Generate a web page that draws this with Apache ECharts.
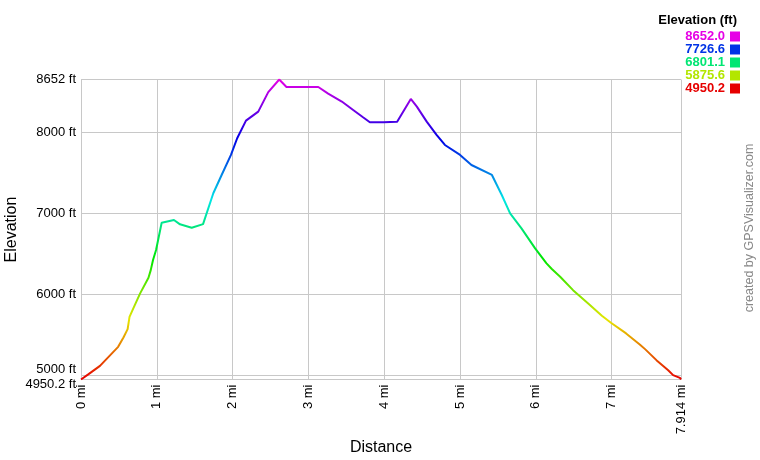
<!DOCTYPE html>
<html>
<head>
<meta charset="utf-8">
<script src="https://cdn.jsdelivr.net/npm/echarts@6/dist/echarts.min.js"></script>
<style>
  html, body { margin: 0; padding: 0; background: #fff; }
  #main { width: 760px; height: 460px; }
</style>
</head>
<body>
<div id="main"></div>
<script>
var myChart = echarts.init(document.getElementById('main'));

// distance (mi) and elevation (ft)
var distance = [0, 0.1, 0.25, 0.49, 0.56, 0.615, 0.64, 0.69, 0.78, 0.89, 0.92, 0.95, 0.99,
  1.064, 1.226, 1.306, 1.46, 1.61, 1.745, 1.855, 1.978, 2.06, 2.176, 2.338, 2.47, 2.615, 2.64,
  2.71, 3.13, 3.26, 3.44, 3.59, 3.72, 3.81, 3.99, 4.17, 4.35, 4.43, 4.56, 4.69, 4.80, 5.0,
  5.15, 5.42, 5.55, 5.66, 5.81, 5.99, 6.14, 6.21, 6.32, 6.49, 6.69, 6.87, 6.99, 7.19, 7.37,
  7.44, 7.59, 7.745, 7.81, 7.9, 7.914];
var elevation = [4950.2, 5016, 5119, 5353, 5469, 5572, 5724, 5827, 6013, 6206, 6300, 6424, 6548,
  6885, 6918, 6865, 6823, 6868, 7248, 7474, 7721, 7927, 8145, 8256, 8496, 8652, 8640,
  8560, 8560, 8478, 8380, 8276, 8186, 8124, 8124, 8132, 8412, 8317, 8132, 7968, 7844, 7721,
  7597, 7474, 7227, 7000, 6815, 6568, 6383, 6313, 6218, 6053, 5889, 5736, 5650, 5519, 5383,
  5325, 5189, 5065, 5004, 4970, 4950.2];

var xTicks = [0, 1, 2, 3, 4, 5, 6, 7, 7.914];
var yTicks = [4950.2, 5000, 6000, 7000, 8000, 8652];
var legendLabels = ['8652.0', '7726.6', '6801.1', '5875.6', '4950.2'];
var legendColors = ['#e600e6', '#0033e6', '#00e673', '#b3e600', '#e60000'];
var rampColors = ['#e60000', '#e6e600', '#00e600', '#00e6e6', '#0000e6', '#e600e6'];

var points = distance.map(function (d, i) { return [d, elevation[i]]; });

var graphics = [
  { type: 'text', right: 23, top: 14,
    style: { text: 'Elevation (ft)', font: 'bold 13px "Liberation Sans", Arial', fill: '#000' } },
  { type: 'text', x: 750, y: 228,
    rotation: Math.PI / 2,
    style: { text: 'created by GPSVisualizer.com', font: '12.5px "Liberation Sans", Arial', fill: '#888',
      align: 'center', verticalAlign: 'middle' } }
];
legendLabels.forEach(function (lab, i) {
  graphics.push({ type: 'text', x: 725, y: 36.5 + i * 13,
    style: { text: lab, font: 'bold 13px "Liberation Sans", Arial', fill: legendColors[i],
      align: 'right', verticalAlign: 'middle' } });
  graphics.push({ type: 'rect', shape: { x: 730, y: 31.5 + i * 13, width: 10, height: 10 },
    style: { fill: legendColors[i] } });
});

option = {
  animation: false,
  textStyle: { fontFamily: '"Liberation Sans", Arial' },
  grid: { left: 81, right: 79, top: 79.5, bottom: 80.5, containLabel: false, outerBoundsMode: 'none' },
  xAxis: {
    type: 'value',
    min: 0,
    max: 7.914,
    name: 'Distance',
    nameLocation: 'middle',
    nameGap: 60,
    nameMoveOverlap: false,
    nameTextStyle: { fontSize: 16, color: '#000' },
    axisLine: { show: false },
    axisTick: { show: false, customValues: xTicks },
    axisLabel: {
      customValues: xTicks,
      rotate: 90,
      fontSize: 13,
      color: '#000',
      margin: 5,
      formatter: function (v) { return v + ' mi'; }
    },
    splitLine: { show: true, lineStyle: { color: '#c8c8c8', width: 1 } }
  },
  yAxis: {
    type: 'value',
    min: 4950.2,
    max: 8652,
    name: 'Elevation',
    nameLocation: 'middle',
    nameGap: 61,
    nameMoveOverlap: false,
    nameRotate: 90,
    nameTextStyle: { fontSize: 16, color: '#000' },
    axisLine: { show: false },
    axisTick: { show: false, customValues: yTicks },
    axisLabel: {
      customValues: yTicks,
      fontSize: 13,
      color: '#000',
      margin: 5,
      formatter: function (v) {
        if (v === 5000) return '{up|5000 ft}';
        if (v === 4950.2) return '{dn|4950.2 ft}';
        return v + ' ft';
      },
      rich: {
        up: { fontSize: 13, color: '#000', padding: [0, 0, 12, 0] },
        dn: { fontSize: 13, color: '#000', padding: [10, 0, 0, 0] }
      }
    },
    splitLine: { show: true, lineStyle: { color: '#c8c8c8', width: 1 } }
  },
  visualMap: {
    show: false,
    type: 'continuous',
    dimension: 1,
    min: 4950.2,
    max: 8652,
    inRange: { color: rampColors }
  },
  graphic: graphics,
  series: [{
    type: 'line',
    data: points,
    symbol: 'none',
    lineStyle: { width: 2 }
  }]
};
myChart.setOption(option);
</script>
</body>
</html>
